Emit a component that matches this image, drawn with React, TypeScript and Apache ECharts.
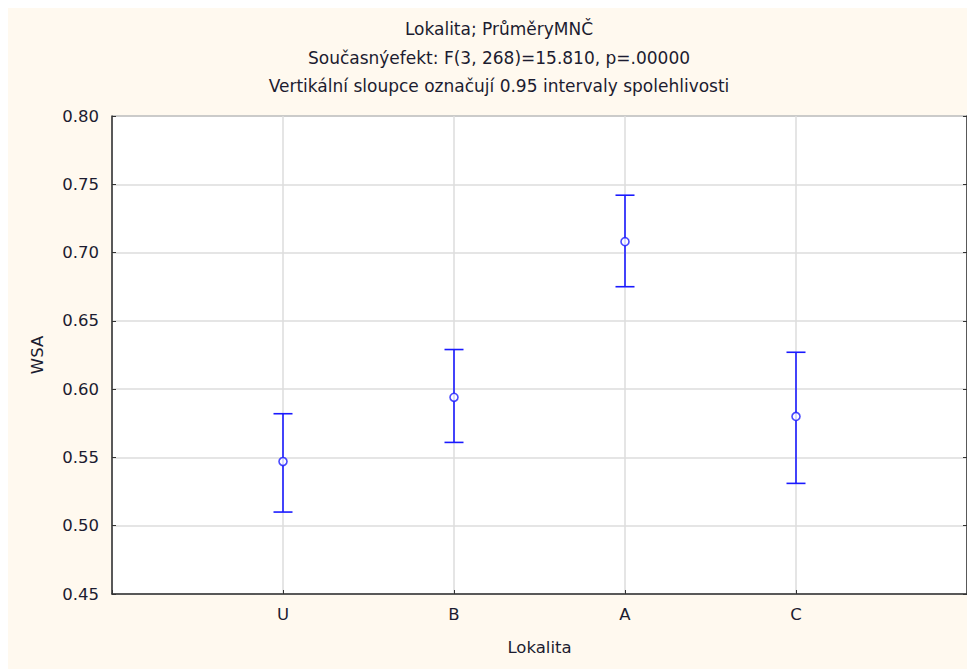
import React, { useEffect, useRef } from "react";
import * as echarts from "echarts";

const categories = ["U", "B", "A", "C"];
const means = [0.547, 0.594, 0.708, 0.58];
const lowerCI = [0.51, 0.561, 0.675, 0.531];
const upperCI = [0.582, 0.629, 0.742, 0.627];
const yTicks = { min: 0.45, max: 0.8, interval: 0.05 };
const titleLines = [
  "Lokalita; PrůměryMNČ",
  "Současnýefekt: F(3, 268)=15.810, p=.00000",
  "Vertikální sloupce označují 0.95 intervaly spolehlivosti",
];

const FONT = "DejaVu Sans";
const FS = 16.5;
const BLUE = "#1a1aff";
const TEXT = "#1c1c30";

export default function App() {
  const ref = useRef<HTMLDivElement>(null);
  useEffect(() => {
    if (!ref.current) return;
    const chart = echarts.init(ref.current, undefined, { renderer: "svg" });
    const xData = ["", ...categories, ""];
    chart.setOption({
      animation: false,
      backgroundColor: "#fff9ef",
      title: {
        text: titleLines.join("\n"),
        left: 486,
        textAlign: "center",
        top: 2,
        textStyle: {
          fontFamily: FONT,
          fontSize: 17,
          fontWeight: "normal",
          color: TEXT,
          lineHeight: 28.5,
        },
      },
      grid: {
        left: 104,
        top: 108,
        width: 855,
        height: 478,
        show: true,
        backgroundColor: "#ffffff",
        borderColor: "#333",
        borderWidth: 1,
      },
      xAxis: {
        type: "category",
        data: xData,
        boundaryGap: false,
        name: "Lokalita",
        nameLocation: "middle",
        nameGap: 45,
        nameTextStyle: { fontFamily: FONT, fontSize: FS, color: TEXT },
        axisLine: { lineStyle: { color: "#333", width: 1.5 } },
        axisTick: { inside: true, length: 4, lineStyle: { color: "#333" } },
        axisLabel: { fontFamily: FONT, fontSize: FS, color: TEXT, margin: 12 },
        splitLine: { show: true, lineStyle: { color: "#dcdcdc", width: 1.5 } },
      },
      yAxis: [
        {
          type: "value",
          min: yTicks.min,
          max: yTicks.max,
          interval: yTicks.interval,
          name: "WSA",
          nameLocation: "middle",
          nameGap: 66,
          nameTextStyle: { fontFamily: FONT, fontSize: FS, color: TEXT },
          axisLine: { show: true, lineStyle: { color: "#333", width: 1.5 } },
          axisTick: { show: true, inside: true, length: 4, lineStyle: { color: "#333" } },
          axisLabel: {
            fontFamily: FONT,
            fontSize: FS,
            color: TEXT,
            margin: 13,
            formatter: (v: number) => v.toFixed(2),
          },
          splitLine: { show: true, lineStyle: { color: "#dcdcdc", width: 1.5 } },
        },
        {
          type: "value",
          position: "right",
          min: yTicks.min,
          max: yTicks.max,
          interval: yTicks.interval,
          axisLine: { show: true, lineStyle: { color: "#333", width: 1.5 } },
          axisTick: { show: true, inside: true, length: 4, lineStyle: { color: "#333" } },
          axisLabel: { show: false },
          splitLine: { show: false },
        },
      ],
      series: [
        {
          type: "custom",
          data: categories.map((c, i) => [c, lowerCI[i], upperCI[i]]),
          encode: { x: 0, y: [1, 2] },
          renderItem: (params: any, api: any) => {
            const x = api.value(0);
            const lo = api.coord([x, api.value(1)]);
            const hi = api.coord([x, api.value(2)]);
            const hw = 9.5;
            const style = { stroke: BLUE, lineWidth: 1.6 };
            return {
              type: "group",
              children: [
                { type: "line", shape: { x1: lo[0], y1: lo[1], x2: hi[0], y2: hi[1] }, style },
                { type: "line", shape: { x1: hi[0] - hw, y1: hi[1], x2: hi[0] + hw, y2: hi[1] }, style },
                { type: "line", shape: { x1: lo[0] - hw, y1: lo[1], x2: lo[0] + hw, y2: lo[1] }, style },
              ],
            };
          },
          z: 3,
        },
        {
          type: "scatter",
          data: categories.map((c, i) => [c, means[i]]),
          symbol: "circle",
          symbolSize: 8,
          itemStyle: { color: "#ffffff", borderColor: BLUE, borderWidth: 1.6 },
          z: 4,
        },
      ],
    });
    return () => chart.dispose();
  }, []);
  return <div ref={ref} style={{ width: 967, height: 661 }} />;
}
